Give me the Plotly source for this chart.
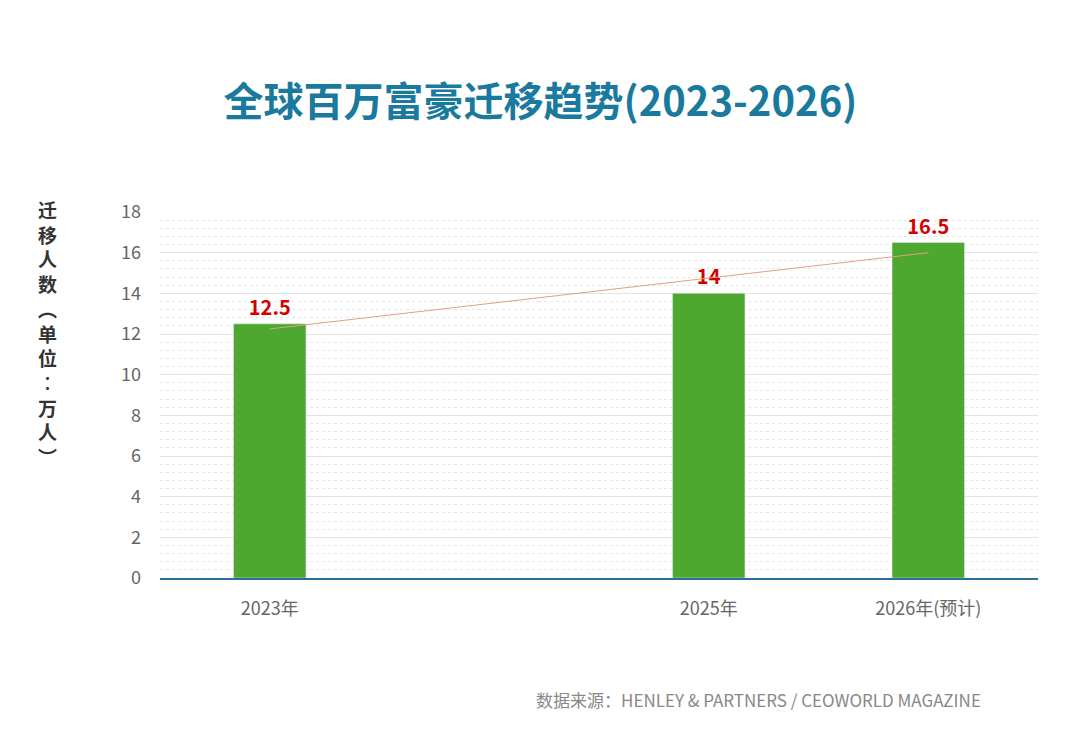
import numpy as np
import plotly.graph_objects as go

years = [2023, 2025, 2026]
values = [12.5, 14, 16.5]
tick_labels = ["2023年", "2025年", "2026年(预计)"]
label_text = ["<b>12.5</b>", "<b>14</b>", "<b>16.5</b>"]

# linear trend over the bars
slope, intercept = np.polyfit(years, values, 1)
trend_x = [years[0], years[-1]]
trend_y = [slope * x + intercept for x in trend_x]

fig = go.Figure()
fig.add_trace(go.Bar(
    x=years, y=values, width=0.33,
    marker=dict(color="#4ea72e"),
    text=label_text, textposition="outside",
    textfont=dict(color="#d40000", size=20, family="Noto Sans CJK SC"),
    cliponaxis=False,
))
fig.add_trace(go.Scatter(
    x=trend_x, y=trend_y, mode="lines",
    line=dict(color="#e0a080", width=1), hoverinfo="skip",
))

fig.update_layout(
    width=1080, height=752,
    paper_bgcolor="white", plot_bgcolor="white",
    showlegend=False,
    margin=dict(l=152, r=50, t=204, b=182),
    font=dict(family="Noto Sans CJK SC", color="#666666"),
    title=dict(
        text="<b>全球百万富豪迁移趋势(2023-2026)</b>",
        x=0.493, xanchor="center", y=0.875, yanchor="middle",
        font=dict(size=40, color="#1a7a9e", family="Noto Sans CJK SC"),
    ),
    xaxis=dict(
        range=[2022.5, 2026.5], tickvals=years, ticktext=tick_labels,
        showgrid=False, zeroline=False, ticks="", ticklabelstandoff=14,
        tickfont=dict(size=18, color="#666666"),
        showline=True, linecolor="#2a6f97", linewidth=1.5,
    ),
    yaxis=dict(
        range=[0, 18], dtick=2, ticks="", ticklabelstandoff=18,
        tickfont=dict(size=18, color="#666666"),
        gridcolor="#e3e3e3", gridwidth=1, zeroline=False,
        minor=dict(dtick=0.4, showgrid=True, gridcolor="#e6e6e6", griddash="dot"),
    ),
    annotations=[
        dict(
            text="<b>" + "<br>".join("迁移人数") + "<br>" + "<br>".join("︵单位︰万人︶") + "</b>",
            xref="paper", yref="paper", x=-0.128, y=1.05, xanchor="center", yanchor="top",
            showarrow=False, font=dict(size=19, color="#333333"),
        ),
        dict(
            text="数据来源：HENLEY & PARTNERS / CEOWORLD MAGAZINE",
            xref="paper", yref="paper", x=0.937, y=-0.333, xanchor="right", yanchor="middle",
            showarrow=False, font=dict(size=17, color="#888888"),
        ),
    ],
)

fig.write_html("out.html")
